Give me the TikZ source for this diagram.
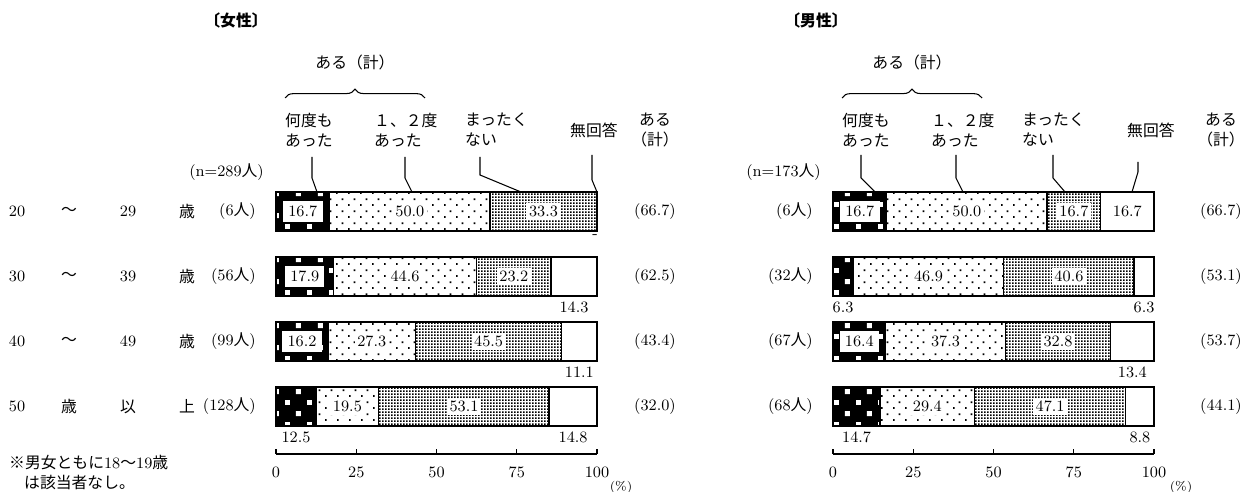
\documentclass[tikz,border=0pt]{standalone}
\usepackage{fontspec}
\newfontfamily\jp{Noto Sans CJK JP}
\usetikzlibrary{patterns,decorations.pathreplacing}

% fill patterns of the bars
\pgfdeclarepatternformonly{wsquares}{\pgfpointorigin}{\pgfqpoint{12.5pt}{12.5pt}}{\pgfqpoint{12.5pt}{12.5pt}}{%
  \pgfpathrectangle{\pgfqpoint{0pt}{0pt}}{\pgfqpoint{2.8pt}{2.8pt}}%
  \pgfpathrectangle{\pgfqpoint{6.25pt}{6.25pt}}{\pgfqpoint{2.8pt}{2.8pt}}%
  \pgfusepath{fill}}
\pgfdeclarepatternformonly{sparsedots}{\pgfpointorigin}{\pgfqpoint{6.6pt}{6.8pt}}{\pgfqpoint{6.6pt}{6.8pt}}{%
  \pgfpathrectangle{\pgfqpoint{0pt}{0pt}}{\pgfqpoint{1pt}{1pt}}%
  \pgfpathrectangle{\pgfqpoint{3.3pt}{3.4pt}}{\pgfqpoint{1pt}{1pt}}%
  \pgfusepath{fill}}
\pgfdeclarepatternformonly{densedots}{\pgfpointorigin}{\pgfqpoint{1.6pt}{1.6pt}}{\pgfqpoint{1.6pt}{1.6pt}}{%
  \pgfpathrectangle{\pgfqpoint{0pt}{0pt}}{\pgfqpoint{0.95pt}{0.95pt}}%
  \pgfusepath{fill}}

\tikzset{
  txt/.style={font=\fontsize{9}{11.4}\selectfont},
  jtxt/.style={font=\fontsize{9}{11.4}\selectfont\jp},
  val/.style={fill=white,inner sep=1.5pt},
  valk/.style={fill=white,inner sep=3pt},
  lead/.style={line width=0.6pt},
}

\begin{document}
\begin{tikzpicture}[x=0.02cm,y=-0.02cm,every node/.style={txt}]
  \useasboundingbox (0,0) rectangle (1257,492);
  % titles
  \node[font=\fontsize{9}{11}\selectfont\jp\bfseries] (ftitle) at (236,21) {〔女性〕};
  \node[font=\fontsize{9}{11}\selectfont\jp\bfseries] (mtitle) at (816,21) {〔男性〕};
  % column heads
  \foreach \q/\X/\sx/\N in {f/276/655/289, m/833/1221/173}{
    \node[jtxt] (\q sum) at ({\X+79},62) {ある（計）};
    \draw[line width=0.6pt,decorate,decoration={brace,amplitude=5pt}] ({\X+9},98) -- ({\X+149},98);
    \node[jtxt,anchor=west,align=left] (\q ka) at ({\X+3},130) {何度も\\あった};
    \node[jtxt,anchor=west,align=left] (\q kb) at ({\X+92},130) {１、２度\\あった};
    \node[jtxt,anchor=west,align=left] (\q kc) at ({\X+183},130) {まったく\\ない};
    \node[jtxt,anchor=west] (\q kd) at ({\X+288},130) {無回答};
    \node[jtxt,align=center] (\q ks) at (\sx,130) {ある\\（計）};
    \node[anchor=east] (\q n) at ({\X-6},172) {(n=\N{\jp 人})};
  }
  % leader lines
  \foreach \q/\k/\j/\e/\t/\bd in {f/a/312/317/157/178, f/b/405/412/157/178, f/c/480/521/157/175, f/d/592/597/155/180,
                                  m/a/861/875/155/178, m/b/956/963/155/178, m/c/1053/1065/155/178, m/d/1138/1132/162/172}{
    \coordinate (\q top\k) at (\j,\t);
    \coordinate (\q end\k) at (\e,192);
    \draw[lead] (\q top\k) -- ++(0,{\bd-\t}) -- (\q end\k);
  }
  % age groups
  \foreach \rw/\ca/\cb/\cc/\cd in {0/20/～/29/歳, 1/30/～/39/歳, 2/40/～/49/歳, 3/50/歳/{\jp 以}/上}{
    \node (age\rw a) at (17,{211.5+65*\rw}) {\ca};
    \node[jtxt] (age\rw b) at (69,{211.5+65*\rw}) {\cb};
    \node (age\rw c) at (128,{211.5+65*\rw}) {\cc};
    \node[jtxt] (age\rw d) at (187,{211.5+65*\rw}) {\cd};
  }
  % bars
  \foreach \q/\X/\sx/\rw/\va/\vb/\vc/\vd/\cnt/\tot in {
      f/276/655/0/16.7/50.0/33.3/0.0/6/66.7,
      f/276/655/1/17.9/44.6/23.2/14.3/56/62.5,
      f/276/655/2/16.2/27.3/45.5/11.1/99/43.4,
      f/276/655/3/12.5/19.5/53.1/14.8/128/32.0,
      m/833/1221/0/16.7/50.0/16.7/16.7/6/66.7,
      m/833/1221/1/6.3/46.9/40.6/6.3/32/53.1,
      m/833/1221/2/16.4/37.3/32.8/13.4/67/53.7,
      m/833/1221/3/14.7/29.4/47.1/8.8/68/44.1}{
    \pgfmathsetmacro\xa{\X+3.21*\va}
    \pgfmathsetmacro\xb{\xa+3.21*\vb}
    \pgfmathsetmacro\xc{\xb+3.21*\vc}
    \pgfmathsetmacro\xe{\X+321}
    \pgfmathsetmacro\yt{192+65*\rw}
    \pgfmathsetmacro\yb{\yt+39}
    \pgfmathsetmacro\ym{\yt+19.5}
    \pgfmathsetmacro\yl{\yb+11}
    \fill[black] (\X,\yt) rectangle (\xa,\yb);
    \fill[pattern=wsquares,pattern color=white] (\X,\yt) rectangle (\xa,\yb);
    \fill[pattern=sparsedots] (\xa,\yt) rectangle (\xb,\yb);
    \fill[pattern=densedots] (\xb,\yt) rectangle (\xc,\yb);
    \draw[line width=0.8pt] (\xa,\yt) -- (\xa,\yb) (\xb,\yt) -- (\xb,\yb) (\xc,\yt) -- (\xc,\yb);
    \draw[line width=1.1pt] (\X,\yt) rectangle (\xe,\yb);
    \node[val] (\q b\rw) at ({(\xa+\xb)/2},\ym) {\vb};
    \node[val] (\q c\rw) at ({(\xb+\xc)/2},\ym) {\vc};
    \ifdim\va pt>15pt
      \node[valk] (\q a\rw) at ({(\X+\xa)/2},\ym) {\va};
    \else
      \node (\q a\rw) at ({(\X+\xa)/2},\yl) {\va};
    \fi
    \ifdim\vd pt>15pt
      \node[val] (\q d\rw) at ({(\xc+\xe)/2},\ym) {\vd};
    \else\ifdim\vd pt<1pt
      \node (\q d\rw) at ({\xe-2},{\yb+6}) {-};
    \else
      \node (\q d\rw) at ({(\xc+\xe)/2},\yl) {\vd};
    \fi\fi
    \node[anchor=east] (\q n\rw) at ({\X-14},\ym) {(\cnt{\jp 人})};
    \node (\q s\rw) at (\sx,\ym) {(\tot)};
  }
  % axis
  \foreach \q/\X/\P in {f/276/621, m/833/1181}{
    \draw[line width=0.6pt] (\X,454) -- ({\X+321},454);
    \foreach \i in {0,25,...,100}{
      \draw[line width=0.6pt] ({\X+3.21*\i},454) -- ++(0,-5);
      \node (\q t\i) at ({\X+3.21*\i},472) {\i};
    }
    \node[font=\fontsize{7}{8}\selectfont] (\q pct) at (\P,487) {(\%)};
  }
  % note
  \node[jtxt,anchor=west] (note1) at (3,463) {※男女ともに{\rmfamily 18}～{\rmfamily 19}歳};
  \node[jtxt,anchor=west] (note2) at (18,483) {は該当者なし。};
\end{tikzpicture}
\end{document}
